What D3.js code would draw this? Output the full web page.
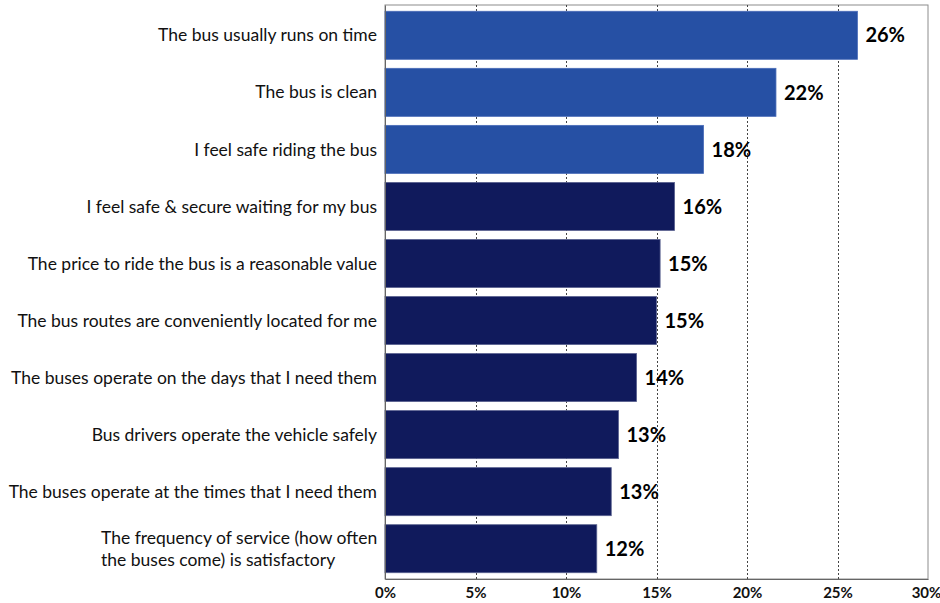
<!DOCTYPE html>
<html>
<head>
<meta charset="utf-8">
<script src="https://cdn.jsdelivr.net/npm/d3@7"></script>
<style>
  html, body { margin: 0; padding: 0; background: #fff; }
  svg { display: block; }
  text { font-family: "Lato", "Open Sans", sans-serif; }
</style>
</head>
<body>
<svg id="chart" width="940" height="603"></svg>
<script>
// Satisfaction statements, top to bottom
const categories = [
  "The bus usually runs on time",
  "The bus is clean",
  "I feel safe riding the bus",
  "I feel safe & secure waiting for my bus",
  "The price to ride the bus is a reasonable value",
  "The bus routes are conveniently located for me",
  "The buses operate on the days that I need them",
  "Bus drivers operate the vehicle safely",
  "The buses operate at the times that I need them",
  "The frequency of service (how often the buses come) is satisfactory"
];
// Share of respondents (fraction)
const values = [0.261, 0.216, 0.176, 0.160, 0.152, 0.150, 0.139, 0.129, 0.125, 0.117];
// Top three statements are highlighted
const highlighted = [true, true, true, false, false, false, false, false, false, false];
const tickValues = [0, 0.05, 0.10, 0.15, 0.20, 0.25, 0.30];

// Wrapped category labels (line breaks)
const labelLines = {
  "The frequency of service (how often the buses come) is satisfactory":
    ["The frequency of service (how often", "the buses come) is satisfactory"]
};

const svg = d3.select("#chart");
const plot = { left: 385, right: 928, top: 5, bottom: 579 };

const x = d3.scaleLinear().domain([0, 0.30]).range([plot.left, plot.right]);
const y = d3.scaleBand().domain(categories).range([plot.top, plot.bottom])
  .paddingInner(0.158).paddingOuter(0.11);

const pct = d3.format(".0%");

// Plot frame
svg.append("rect")
  .attr("x", plot.left).attr("y", plot.top)
  .attr("width", plot.right - plot.left).attr("height", plot.bottom - plot.top)
  .attr("fill", "none").attr("stroke", "#8c8c8c").attr("stroke-width", 1);

// Dashed vertical gridlines
svg.append("g").selectAll("line")
  .data(tickValues.filter(d => d > 0 && d < 0.30))
  .join("line")
  .attr("x1", d => Math.round(x(d)) + 0.5).attr("x2", d => Math.round(x(d)) + 0.5)
  .attr("y1", plot.top).attr("y2", plot.bottom)
  .attr("stroke", "#444").attr("stroke-width", 1).attr("stroke-dasharray", "2,2");

// Bars
svg.append("g").selectAll("rect")
  .data(categories)
  .join("rect")
  .attr("x", x(0))
  .attr("y", d => y(d))
  .attr("width", (d, i) => x(values[i]) - x(0))
  .attr("height", y.bandwidth())
  .attr("fill", (d, i) => highlighted[i] ? "#2650a4" : "#101a5c")
  .attr("stroke", (d, i) => highlighted[i] ? "#4a6cb8" : "#5a6290")
  .attr("stroke-width", 0.8);

// Value labels
svg.append("g").selectAll("text")
  .data(categories)
  .join("text")
  .attr("x", (d, i) => x(values[i]) + 8)
  .attr("y", d => y(d) + y.bandwidth() / 2)
  .attr("dy", "0.36em")
  .attr("font-size", 20)
  .attr("font-weight", "bold")
  .attr("fill", "#000")
  .text((d, i) => pct(values[i]));

// Left axis line
const yAxis = d3.axisLeft(y).tickSize(0).tickFormat(() => "");
const yg = svg.append("g").attr("transform", `translate(${plot.left},0)`).call(yAxis);
yg.select(".domain").attr("stroke", "#666");

// Category labels
const catG = svg.append("g");
categories.forEach(c => {
  const lines = labelLines[c] || [c];
  const t = catG.append("text")
    .attr("text-anchor", lines.length > 1 ? "start" : "end")
    .attr("font-size", 17.5)
    .attr("fill", "#111");
  const cy = y(c) + y.bandwidth() / 2;
  const lh = 22;
  lines.forEach((ln, k) => {
    t.append("tspan")
      .attr("x", lines.length > 1 ? 101 : plot.left - 8)
      .attr("y", cy + (k - (lines.length - 1) / 2) * lh)
      .attr("dy", "0.35em")
      .text(ln);
  });
});

// Bottom axis
const xAxis = d3.axisBottom(x).tickValues(tickValues).tickFormat(pct).tickSize(0).tickPadding(8);
const xg = svg.append("g").attr("transform", `translate(0,${plot.bottom})`).call(xAxis);
xg.select(".domain").attr("stroke", "#666");
xg.selectAll("text")
  .attr("font-size", 15).attr("font-weight", "bold").attr("fill", "#111")
  .style("font-family", "Lato, 'Open Sans', sans-serif");
// keep the last tick label inside the canvas
xg.selectAll(".tick").filter(d => d === 0.30).select("text").attr("dx", -2);
</script>
</body>
</html>
